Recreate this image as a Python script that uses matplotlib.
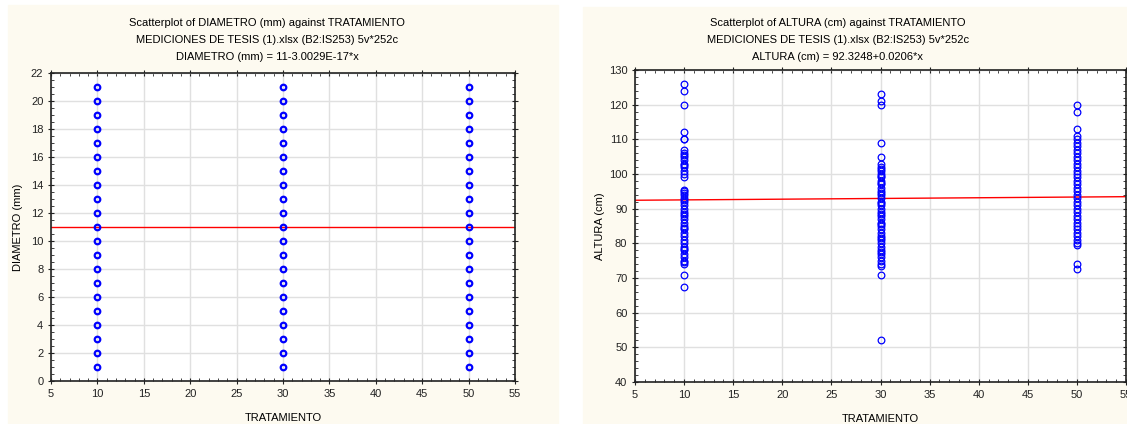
import matplotlib
matplotlib.use("Agg")
import matplotlib.pyplot as plt
from matplotlib.patches import Rectangle
from matplotlib.ticker import MultipleLocator

plt.rcParams["font.family"] = ["Liberation Sans", "DejaVu Sans"]
plt.rcParams["font.size"] = 8

# left chart: DIAMETRO (mm) by TRATAMIENTO
treatments = [10, 30, 50]
diametro = [1, 2, 3, 4, 5, 6, 7, 8, 9, 10, 11, 12, 13, 14, 15, 16, 17, 18, 19, 20, 21]
diam_intercept = 11.0
diam_slope = -3.0029e-17

# right chart: ALTURA (cm) by TRATAMIENTO
altura_10 = [126, 124, 120, 112, 110, 110, 107, 106, 105.5, 105, 104, 103, 102.5, 102,
             101, 100, 99, 95.5, 95, 94.5, 94, 93, 92.5, 92, 91, 90, 89, 88.5, 88, 87,
             86, 85, 84.5, 84, 83, 82, 81, 80, 79, 78.5, 78, 77, 76, 75, 74.5, 74, 71, 67.5]
altura_30 = [123, 121, 120, 109, 105, 103, 102, 101.5, 101, 100, 99.5, 99, 98, 97.5, 97,
             96, 95, 94.5, 94, 93, 92, 91.5, 91, 90, 89, 88.5, 88, 87, 86, 85.5, 85, 84,
             83, 82, 81.5, 81, 80, 79, 78, 77.5, 77, 76, 75, 74, 73.5, 71, 52]
altura_50 = [120, 118, 113, 111, 110, 109, 108, 107, 106, 105, 104, 103, 102, 101, 100,
             99, 98, 97, 96, 95, 94, 93, 92, 91, 90, 89, 88, 87, 86, 85, 84, 83, 82, 81,
             80, 79.5, 74, 72.5]
alt_intercept = 92.3248
alt_slope = 0.0206

cream = "#fdfaf0"
blue = "#0000ff"

fig = plt.figure(figsize=(11.27, 4.24), dpi=100, facecolor="white")
fig.patches.append(Rectangle((8 / 1127, 0), 550 / 1127, 419 / 424,
                             transform=fig.transFigure, color=cream, zorder=-10))
fig.patches.append(Rectangle((583 / 1127, 0), 544 / 1127, 417 / 424,
                             transform=fig.transFigure, color=cream, zorder=-10))

ax1 = fig.add_axes([51 / 1127, 1 - 381 / 424, 464 / 1127, 308 / 424])
ax2 = fig.add_axes([635 / 1127, 1 - 382 / 424, 491 / 1127, 312 / 424])


def style(ax, ymajor, yminor):
    ax.set_xlim(5, 55)
    ax.xaxis.set_major_locator(MultipleLocator(5))
    ax.xaxis.set_minor_locator(MultipleLocator(1))
    ax.yaxis.set_major_locator(MultipleLocator(ymajor))
    ax.yaxis.set_minor_locator(MultipleLocator(yminor))
    ax.grid(True, which="major", color="#e0e0e0", lw=1.0)
    ax.set_axisbelow(True)
    ax.tick_params(which="both", top=True, right=True, colors="#222222", labelsize=8)
    ax.tick_params(which="major", direction="inout", length=4, width=0.8)
    ax.tick_params(which="minor", direction="in", length=2, width=0.6)
    for s in ax.spines.values():
        s.set_color("#222222")
        s.set_linewidth(1.2)
    ax.set_xlabel("TRATAMIENTO", fontsize=8, labelpad=10)


# left
for t in treatments:
    ax1.plot([t] * len(diametro), diametro, "o", mfc="none", mec=blue, ms=4, mew=1.6, zorder=3)
ax1.plot([5, 55], [diam_intercept + diam_slope * 5, diam_intercept + diam_slope * 55],
         color="red", lw=1.0, zorder=2)
ax1.set_ylim(0, 22)
style(ax1, 2, 0.5)
ax1.set_ylabel("DIAMETRO (mm)", fontsize=8)
ax1.yaxis.set_label_coords(-0.06, 0.5)

# right
for t, vals in zip(treatments, [altura_10, altura_30, altura_50]):
    ax2.plot([t] * len(vals), vals, "o", mfc="none", mec=blue, ms=4.8, mew=0.9, zorder=3)
ax2.plot([5, 55], [alt_intercept + alt_slope * 5, alt_intercept + alt_slope * 55],
         color="red", lw=1.0, zorder=2)
ax2.set_ylim(40, 130)
style(ax2, 10, 2)
ax2.set_ylabel("ALTURA (cm)", fontsize=8)
ax2.yaxis.set_label_coords(-0.061, 0.5)

titles_left = ["Scatterplot of DIAMETRO (mm) against TRATAMIENTO",
               "MEDICIONES DE TESIS (1).xlsx (B2:IS253) 5v*252c",
               "DIAMETRO (mm) = 11-3.0029E-17*x"]
titles_right = ["Scatterplot of ALTURA (cm) against TRATAMIENTO",
                "MEDICIONES DE TESIS (1).xlsx (B2:IS253) 5v*252c",
                "ALTURA (cm) = 92.3248+0.0206*x"]
for i, (tl, tr) in enumerate(zip(titles_left, titles_right)):
    y = 1 - (22.7 + 17.2 * i) / 424
    fig.text(267 / 1127, y, tl, ha="center", va="center", fontsize=8)
    fig.text(838 / 1127, y, tr, ha="center", va="center", fontsize=8)

fig.savefig("out.png", dpi=100, facecolor="white")
